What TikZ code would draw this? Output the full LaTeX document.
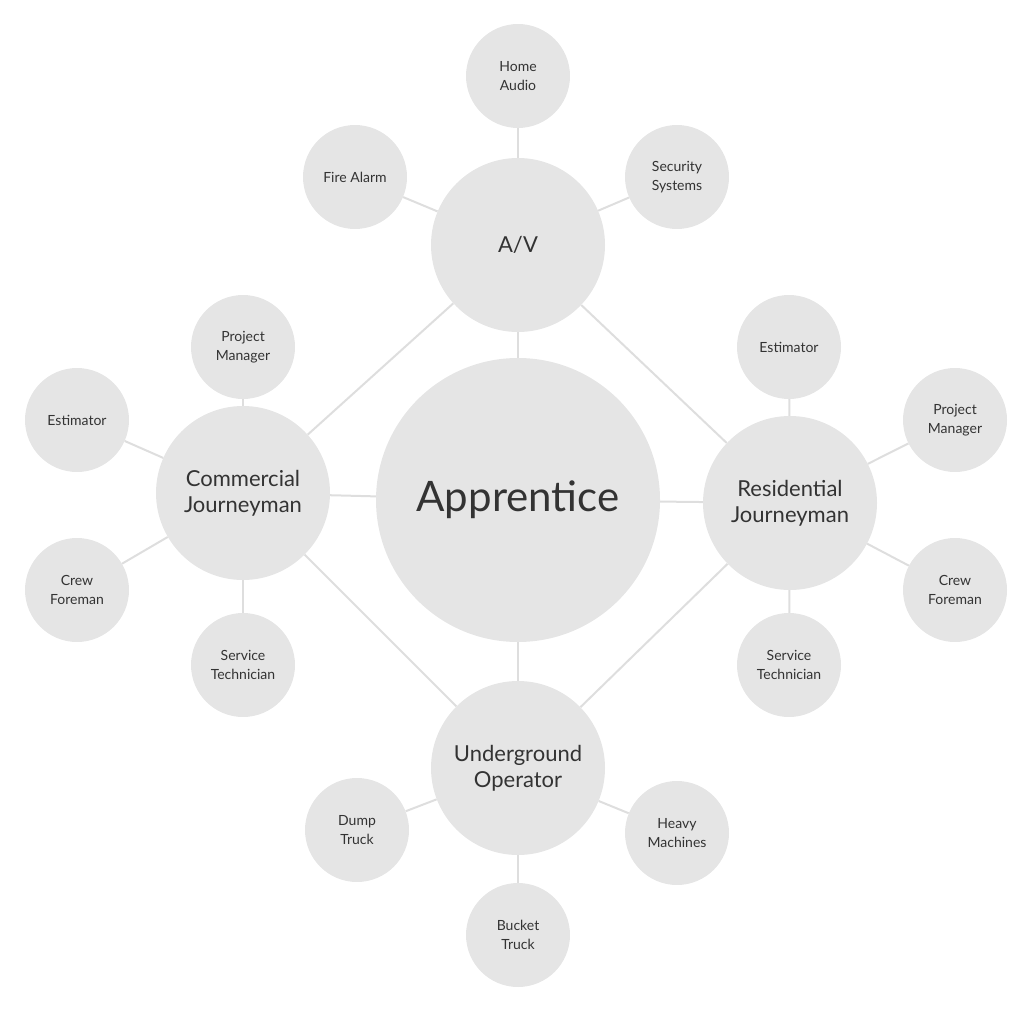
\documentclass[tikz,border=0pt]{standalone}
\usepackage{fontspec}
\setmainfont{Lato}
\begin{document}
\begin{tikzpicture}[x=1pt,y=-1pt,
  base/.style={circle,fill=black!10,draw=none,text=black!80,align=center,inner sep=0pt},
  big/.style={base,minimum size=284pt,font=\fontsize{42}{46}\selectfont},
  mid/.style={base,minimum size=174pt,font=\fontsize{22}{26}\selectfont},
  sm/.style={base,minimum size=104pt,font=\fontsize{14}{19}\selectfont},
  con/.style={draw=black!13,line width=2pt}]
\useasboundingbox (0,0) rectangle (1024,1016);
\node[big] (app) at (518,500) {Apprentice};
\node[mid] (av) at (518,245) {A/V};
\node[mid] (uo) at (518,768) {Underground\\Operator};
\node[mid] (cj) at (243,493) {Commercial\\Journeyman};
\node[mid] (rj) at (790,503) {Residential\\Journeyman};
\node[sm] (ha) at (518,76) {Home\\Audio};
\node[sm] (fa) at (355,177) {Fire Alarm};
\node[sm] (ss) at (677,177) {Security\\Systems};
\node[sm] (cpm) at (243,347) {Project\\Manager};
\node[sm] (ces) at (77,420) {Estimator};
\node[sm] (ccf) at (77,590) {Crew\\Foreman};
\node[sm] (cst) at (243,665) {Service\\Technician};
\node[sm] (res) at (789,347) {Estimator};
\node[sm] (rpm) at (955,420) {Project\\Manager};
\node[sm] (rcf) at (955,590) {Crew\\Foreman};
\node[sm] (rst) at (789,665) {Service\\Technician};
\node[sm] (dt) at (357,830) {Dump\\Truck};
\node[sm] (hm) at (677,833) {Heavy\\Machines};
\node[sm] (bt) at (518,935) {Bucket\\Truck};
\foreach \a/\b in {app/av,app/uo,app/cj,app/rj,av/cj,av/rj,uo/cj,uo/rj,
  av/ha,av/fa,av/ss,cj/cpm,cj/ces,cj/ccf,cj/cst,rj/res,rj/rpm,rj/rcf,rj/rst,
  uo/dt,uo/hm,uo/bt}
  \draw[con] (\a) -- (\b);
\end{tikzpicture}
\end{document}
